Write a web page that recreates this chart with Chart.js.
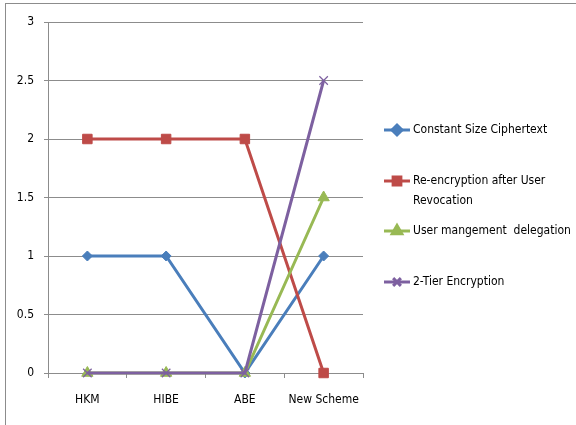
<!DOCTYPE html>
<html>
<head>
<meta charset="utf-8">
<script src="https://cdn.jsdelivr.net/npm/chart.js@4/dist/chart.umd.min.js"></script>
<style>
  html, body { margin: 0; padding: 0; background: #fff; }
  #wrap { width: 576px; height: 425px; position: relative; }
</style>
</head>
<body>
<div id="wrap"><canvas id="grafico" width="576" height="425"></canvas></div>
<script>
// datos
const categorias = ['HKM', 'HIBE', 'ABE', 'New Scheme'];
const nombresSeries = [
  'Constant Size Ciphertext',
  'Re-encryption after User Revocation',
  'User mangement  delegation',
  '2-Tier Encryption'
];
const tamanoConstante = [1, 1, 0, 1];
const reCifrado = [2, 2, 2, 0];
const delegacion = [0, 0, 0, 1.5];
const dosNiveles = [0, 0, 0, 2.5];
const ticksY = [0, 0.5, 1, 1.5, 2, 2.5, 3];

const colores = ['#4A7EBB', '#BE4B48', '#98B954', '#7D60A0'];
const marcadores = ['rectRot', 'rect', 'triangle', 'crossRot'];
const radios = [5, 6.7, 6.5, 6];
const fuente = "'Liberation Sans Narrow', 'DejaVu Sans Condensed', sans-serif";

const series = [tamanoConstante, reCifrado, delegacion, dosNiveles];

// borde exterior y leyenda dibujada a mano (para partir el texto en dos líneas)
const extras = {
  id: 'extras',
  beforeDraw(chart) {
    const c = chart.ctx;
    c.save();
    c.strokeStyle = '#8c8c8c';
    c.lineWidth = 1;
    c.strokeRect(5.5, 3.5, 700, 600);
    c.restore();
  },
  afterDraw(chart) {
    const c = chart.ctx;
    const filas = [130, 181, 231, 282];
    c.save();
    c.font = '12px ' + fuente;
    c.textBaseline = 'middle';
    chart.data.datasets.forEach(function (ds, i) {
      const y = filas[i];
      c.strokeStyle = ds.borderColor;
      c.lineWidth = 3;
      c.beginPath();
      c.moveTo(384, y);
      c.lineTo(410, y);
      c.stroke();
      Chart.helpers.drawPoint(c, {
        pointStyle: ds.pointStyle,
        radius: Math.min(ds.pointRadius, 5.5),
        borderWidth: ds.pointStyle === 'crossRot' ? 1.2 : 1
      }, 397, y);
      if (ds.pointStyle !== 'crossRot') {
        c.fillStyle = ds.borderColor;
        c.fill();
      }
      // partir el texto
      const palabras = ds.label.split(' ');
      const lineas = [];
      let actual = '';
      palabras.forEach(function (p) {
        const prueba = actual ? actual + ' ' + p : p;
        if (c.measureText(prueba).width > 158 && actual) {
          lineas.push(actual);
          actual = p;
        } else {
          actual = prueba;
        }
      });
      lineas.push(actual);
      c.fillStyle = '#000';
      lineas.forEach(function (l, k) {
        c.fillText(l, 413, y + k * 20);
      });
    });
    c.restore();
  }
};

const ctx = document.getElementById('grafico');
new Chart(ctx, {
  type: 'line',
  data: {
    labels: categorias,
    datasets: series.map(function (d, i) {
      return {
        label: nombresSeries[i],
        data: d,
        borderColor: colores[i],
        backgroundColor: colores[i],
        borderWidth: 3,
        pointStyle: marcadores[i],
        pointRadius: radios[i],
        pointBorderWidth: marcadores[i] === 'crossRot' ? 1.2 : 1,
        pointBorderColor: colores[i],
        pointBackgroundColor: colores[i],
        tension: 0,
        clip: false,
        order: 3 - i
      };
    })
  },
  options: {
    responsive: false,
    animation: false,
    devicePixelRatio: 1,
    layout: { padding: { left: 0, right: 213, top: 22, bottom: 0 } },
    plugins: {
      legend: { display: false },
      tooltip: { enabled: false }
    },
    scales: {
      x: {
        offset: true,
        grid: {
          offset: true,
          drawOnChartArea: false,
          drawTicks: true,
          tickLength: 5,
          color: '#8c8c8c'
        },
        border: { color: '#8c8c8c', width: 1 },
        ticks: {
          color: '#000',
          font: { family: fuente, size: 12 },
          padding: 15,
          maxRotation: 0
        },
        afterFit(scale) { scale.height = 52; }
      },
      y: {
        min: 0,
        max: 3,
        afterBuildTicks(scale) { scale.ticks = ticksY.map(function (v) { return { value: v }; }); },
        grid: {
          color: '#8c8c8c',
          tickLength: 4,
          drawTicks: true
        },
        border: { color: '#8c8c8c', width: 1 },
        ticks: {
          color: '#000',
          font: { family: fuente, size: 12 },
          padding: 10,
          callback: function (v) { return String(v); }
        },
        afterFit(scale) { scale.width = 48; }
      }
    }
  },
  plugins: [extras]
});
</script>
</body>
</html>
